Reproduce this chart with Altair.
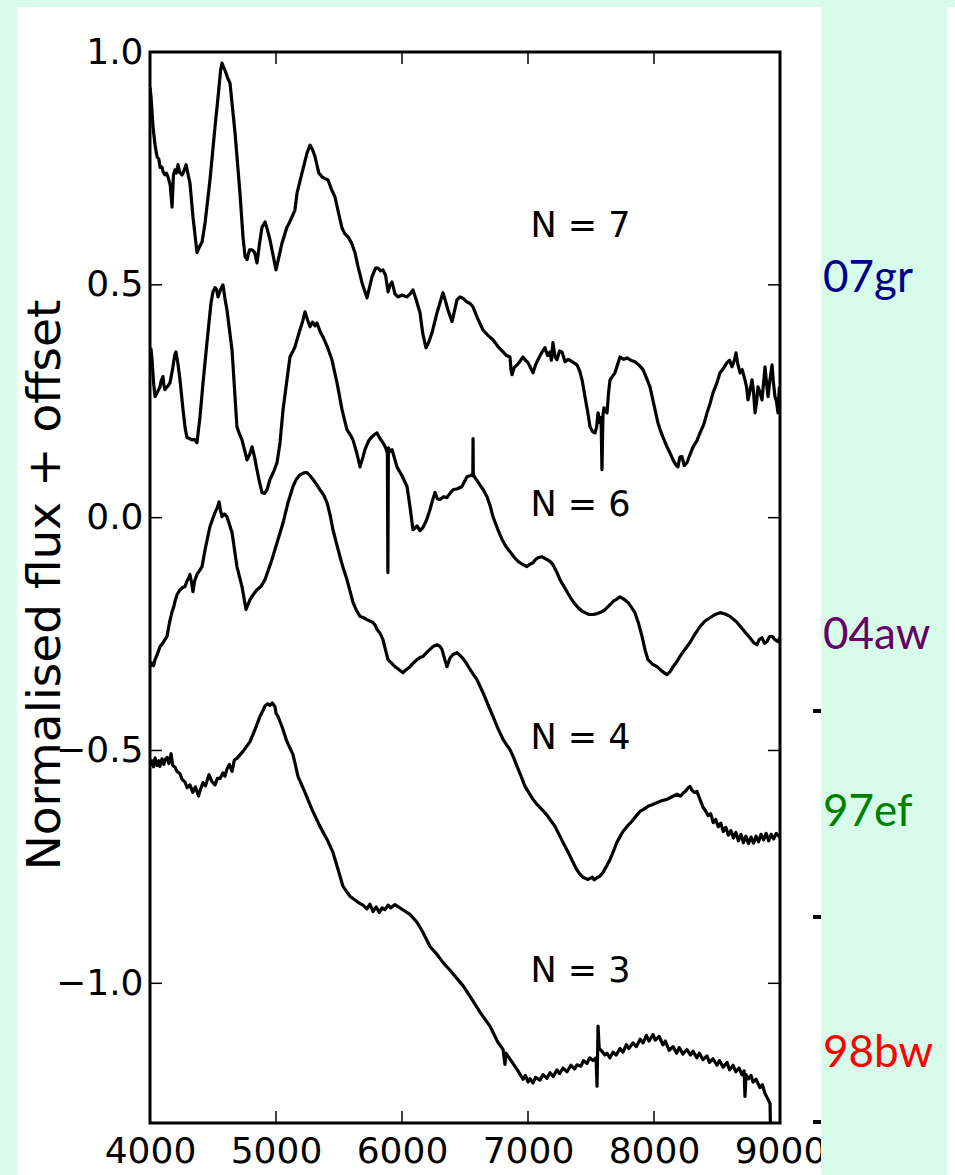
import altair as alt
import pandas as pd

# Supernova spectra: (wavelength in Angstrom, normalised flux + offset)
spec_07gr = [
    (4000, 0.925), (4008, 0.904), (4024, 0.839), (4040, 0.800), (4056, 0.775), (4070, 0.770),
    (4080, 0.752), (4095, 0.753), (4105, 0.742), (4119, 0.736), (4130, 0.740), (4143, 0.732),
    (4160, 0.715), (4175, 0.667), (4186, 0.735), (4198, 0.747), (4210, 0.740), (4222, 0.758),
    (4235, 0.742), (4254, 0.736), (4270, 0.745), (4286, 0.758), (4300, 0.740), (4317, 0.719),
    (4341, 0.646), (4373, 0.569), (4390, 0.580), (4413, 0.592), (4437, 0.633), (4476, 0.725),
    (4516, 0.839), (4540, 0.903), (4560, 0.960), (4571, 0.976), (4583, 0.968), (4595, 0.961),
    (4615, 0.945), (4635, 0.933), (4675, 0.826), (4714, 0.697), (4738, 0.603), (4755, 0.560),
    (4770, 0.554), (4790, 0.575), (4810, 0.575), (4830, 0.570), (4849, 0.547), (4870, 0.590),
    (4889, 0.624), (4913, 0.635), (4930, 0.620), (4952, 0.597), (5000, 0.532), (5048, 0.590),
    (5087, 0.624), (5100, 0.630), (5127, 0.646), (5150, 0.660), (5167, 0.697), (5206, 0.740),
    (5246, 0.783), (5270, 0.800), (5290, 0.790), (5310, 0.775), (5340, 0.740), (5365, 0.732),
    (5390, 0.728), (5413, 0.725), (5440, 0.705), (5468, 0.689), (5500, 0.650), (5524, 0.622),
    (5545, 0.610), (5571, 0.603), (5600, 0.590), (5627, 0.569), (5650, 0.540), (5683, 0.504),
    (5722, 0.472), (5762, 0.517), (5790, 0.536), (5810, 0.536), (5830, 0.530), (5849, 0.532),
    (5870, 0.520), (5889, 0.485), (5905, 0.500), (5921, 0.506), (5945, 0.480), (5968, 0.474),
    (6000, 0.478), (6040, 0.474), (6070, 0.482), (6087, 0.489), (6110, 0.470), (6143, 0.440),
    (6165, 0.395), (6190, 0.365), (6210, 0.375), (6238, 0.397), (6278, 0.440), (6300, 0.460),
    (6325, 0.483), (6345, 0.465), (6365, 0.446), (6397, 0.421), (6437, 0.468), (6460, 0.474),
    (6490, 0.470), (6516, 0.463), (6540, 0.460), (6563, 0.453), (6595, 0.431), (6643, 0.403),
    (6680, 0.392), (6722, 0.382), (6760, 0.368), (6802, 0.356), (6830, 0.348), (6857, 0.345),
    (6865, 0.318), (6873, 0.307), (6890, 0.322), (6913, 0.328), (6935, 0.335), (6960, 0.345),
    (6980, 0.338), (7000, 0.333), (7020, 0.322), (7040, 0.311), (7060, 0.328), (7079, 0.339),
    (7110, 0.355), (7135, 0.365), (7155, 0.348), (7175, 0.356), (7185, 0.338), (7198, 0.376),
    (7215, 0.345), (7230, 0.339), (7250, 0.358), (7270, 0.356), (7294, 0.335), (7320, 0.340),
    (7349, 0.335), (7389, 0.328), (7410, 0.315), (7429, 0.296), (7452, 0.260), (7475, 0.225),
    (7492, 0.195), (7512, 0.185), (7532, 0.182), (7545, 0.195), (7556, 0.225), (7571, 0.204),
    (7580, 0.215), (7587, 0.103), (7595, 0.220), (7603, 0.236), (7627, 0.225), (7640, 0.270),
    (7651, 0.296), (7690, 0.311), (7730, 0.345), (7760, 0.340), (7786, 0.343), (7815, 0.338),
    (7849, 0.335), (7880, 0.328), (7913, 0.318), (7940, 0.300), (7968, 0.281), (8008, 0.232),
    (8030, 0.205), (8048, 0.189), (8075, 0.170), (8103, 0.152), (8125, 0.140), (8151, 0.124),
    (8170, 0.115), (8190, 0.109), (8205, 0.130), (8222, 0.131), (8240, 0.112), (8262, 0.118),
    (8285, 0.135), (8310, 0.152), (8340, 0.165), (8365, 0.182), (8395, 0.200), (8421, 0.225),
    (8445, 0.245), (8468, 0.268), (8500, 0.290), (8524, 0.311), (8550, 0.320), (8579, 0.333),
    (8600, 0.338), (8619, 0.324), (8640, 0.340), (8651, 0.354), (8665, 0.330), (8683, 0.311),
    (8700, 0.318), (8722, 0.296), (8735, 0.280), (8746, 0.253), (8760, 0.270), (8778, 0.296),
    (8790, 0.270), (8802, 0.225), (8815, 0.250), (8825, 0.281), (8840, 0.270), (8857, 0.253),
    (8870, 0.290), (8881, 0.324), (8893, 0.290), (8905, 0.260), (8920, 0.295), (8937, 0.328),
    (8948, 0.290), (8960, 0.260), (8972, 0.250), (8984, 0.225), (8995, 0.281),
]

spec_04aw = [
    (4000, 0.350), (4008, 0.362), (4016, 0.340), (4028, 0.290), (4040, 0.260), (4060, 0.270),
    (4079, 0.281), (4090, 0.295), (4103, 0.303), (4110, 0.285), (4119, 0.275), (4140, 0.282),
    (4159, 0.290), (4180, 0.320), (4195, 0.348), (4206, 0.356), (4222, 0.330), (4238, 0.296),
    (4262, 0.232), (4280, 0.190), (4294, 0.172), (4313, 0.170), (4333, 0.167), (4353, 0.168),
    (4373, 0.161), (4397, 0.217), (4421, 0.290), (4452, 0.376), (4484, 0.461), (4500, 0.485),
    (4516, 0.494), (4528, 0.490), (4540, 0.474), (4560, 0.490), (4579, 0.500), (4595, 0.470),
    (4611, 0.446), (4651, 0.360), (4690, 0.195), (4710, 0.180), (4730, 0.167), (4770, 0.124),
    (4790, 0.135), (4810, 0.152), (4830, 0.130), (4849, 0.103), (4870, 0.075), (4889, 0.054),
    (4910, 0.052), (4929, 0.060), (4952, 0.082), (4980, 0.098), (5008, 0.118), (5032, 0.161),
    (5056, 0.232), (5087, 0.296), (5111, 0.345), (5130, 0.355), (5151, 0.367), (5170, 0.385),
    (5190, 0.403), (5210, 0.420), (5230, 0.442), (5250, 0.425), (5270, 0.410), (5290, 0.420),
    (5310, 0.412), (5325, 0.418), (5350, 0.400), (5373, 0.388), (5410, 0.365), (5444, 0.339),
    (5484, 0.290), (5524, 0.232), (5563, 0.189), (5590, 0.178), (5611, 0.167), (5640, 0.140),
    (5667, 0.109), (5690, 0.130), (5706, 0.146), (5735, 0.165), (5762, 0.174), (5780, 0.178),
    (5802, 0.182), (5825, 0.170), (5849, 0.161), (5870, 0.150), (5884, 0.138), (5888, -0.118),
    (5892, 0.150), (5905, 0.142), (5921, 0.146), (5940, 0.128), (5960, 0.109), (6000, 0.090),
    (6040, 0.067), (6065, 0.020), (6087, -0.026), (6120, -0.018), (6143, -0.028), (6167, -0.021),
    (6195, -0.005), (6222, 0.017), (6240, 0.035), (6262, 0.054), (6282, 0.040), (6302, 0.039),
    (6330, 0.045), (6357, 0.043), (6380, 0.052), (6405, 0.060), (6440, 0.062), (6476, 0.067),
    (6500, 0.080), (6516, 0.088), (6540, 0.090), (6556, 0.092), (6562, 0.090), (6564, 0.170),
    (6566, 0.092), (6579, 0.086), (6600, 0.078), (6619, 0.070), (6645, 0.060), (6675, 0.045),
    (6700, 0.025), (6722, 0.002), (6760, -0.025), (6794, -0.047), (6825, -0.062), (6857, -0.073),
    (6890, -0.085), (6921, -0.094), (6955, -0.100), (6992, -0.105), (7015, -0.100), (7040, -0.097),
    (7060, -0.090), (7079, -0.086), (7110, -0.084), (7151, -0.090), (7175, -0.094), (7198, -0.101),
    (7225, -0.115), (7254, -0.133), (7290, -0.150), (7333, -0.170), (7365, -0.183), (7397, -0.193),
    (7425, -0.200), (7452, -0.204), (7485, -0.208), (7516, -0.208), (7550, -0.206), (7587, -0.202),
    (7610, -0.198), (7635, -0.191), (7655, -0.186), (7675, -0.180), (7700, -0.176), (7730, -0.170),
    (7760, -0.175), (7794, -0.182), (7820, -0.192), (7849, -0.204), (7875, -0.225), (7905, -0.255),
    (7930, -0.285), (7952, -0.305), (7990, -0.315), (8024, -0.320), (8065, -0.330), (8103, -0.337),
    (8130, -0.330), (8151, -0.320), (8180, -0.310), (8206, -0.298), (8245, -0.283), (8286, -0.268),
    (8325, -0.250), (8365, -0.234), (8405, -0.222), (8444, -0.215), (8485, -0.208), (8524, -0.204),
    (8565, -0.207), (8603, -0.212), (8630, -0.218), (8659, -0.225), (8680, -0.232), (8706, -0.240),
    (8735, -0.250), (8762, -0.258), (8790, -0.268), (8817, -0.273), (8835, -0.262), (8857, -0.258),
    (8877, -0.270), (8897, -0.266), (8915, -0.256), (8937, -0.255), (8960, -0.262), (8984, -0.266),
    (8998, -0.258),
]

spec_97ef = [
    (4000, -0.320), (4015, -0.312), (4028, -0.318), (4040, -0.305), (4060, -0.292), (4079, -0.277),
    (4100, -0.270), (4118, -0.262), (4135, -0.255), (4155, -0.225), (4175, -0.202), (4190, -0.190),
    (4198, -0.180), (4215, -0.165), (4238, -0.155), (4260, -0.150), (4278, -0.148), (4295, -0.135),
    (4310, -0.128), (4317, -0.122), (4330, -0.140), (4341, -0.159), (4355, -0.135), (4373, -0.122),
    (4390, -0.115), (4413, -0.105), (4437, -0.069), (4476, -0.019), (4516, 0.011), (4535, 0.022),
    (4548, 0.034), (4560, 0.015), (4571, 0.002), (4590, 0.008), (4611, 0.002), (4651, -0.032),
    (4690, -0.105), (4730, -0.148), (4762, -0.197), (4794, -0.176), (4820, -0.165), (4849, -0.155),
    (4880, -0.148), (4913, -0.133), (4940, -0.112), (4968, -0.090), (5016, -0.047), (5056, -0.011),
    (5095, 0.032), (5135, 0.067), (5160, 0.082), (5190, 0.092), (5220, 0.096), (5246, 0.097),
    (5270, 0.090), (5294, 0.082), (5320, 0.072), (5349, 0.060), (5380, 0.048), (5405, 0.032),
    (5430, 0.005), (5452, -0.026), (5480, -0.055), (5508, -0.084), (5535, -0.110), (5563, -0.133),
    (5590, -0.160), (5611, -0.182), (5640, -0.200), (5667, -0.212), (5695, -0.215), (5722, -0.219),
    (5745, -0.222), (5770, -0.225), (5790, -0.232), (5802, -0.240), (5825, -0.248), (5849, -0.262),
    (5870, -0.285), (5889, -0.305), (5915, -0.312), (5944, -0.320), (5975, -0.326), (6008, -0.333),
    (6035, -0.326), (6063, -0.320), (6090, -0.312), (6119, -0.305), (6145, -0.300), (6167, -0.298),
    (6195, -0.290), (6222, -0.283), (6250, -0.276), (6278, -0.273), (6300, -0.276), (6317, -0.283),
    (6340, -0.305), (6357, -0.320), (6380, -0.302), (6405, -0.294), (6437, -0.290), (6476, -0.300),
    (6510, -0.312), (6540, -0.326), (6570, -0.338), (6595, -0.348), (6643, -0.376), (6680, -0.400),
    (6722, -0.427), (6760, -0.452), (6802, -0.476), (6830, -0.488), (6857, -0.498), (6885, -0.515),
    (6913, -0.534), (6945, -0.555), (6976, -0.577), (7010, -0.592), (7040, -0.605), (7075, -0.617),
    (7111, -0.627), (7135, -0.634), (7159, -0.642), (7185, -0.652), (7214, -0.663), (7255, -0.685),
    (7294, -0.706), (7325, -0.722), (7357, -0.740), (7385, -0.755), (7413, -0.766), (7440, -0.773),
    (7476, -0.777), (7510, -0.772), (7525, -0.778), (7548, -0.773), (7570, -0.770), (7595, -0.762),
    (7620, -0.750), (7651, -0.734), (7680, -0.715), (7706, -0.697), (7730, -0.685), (7754, -0.674),
    (7790, -0.662), (7825, -0.652), (7860, -0.640), (7889, -0.631), (7920, -0.626), (7952, -0.620),
    (7990, -0.616), (8024, -0.612), (8060, -0.608), (8103, -0.605), (8140, -0.600), (8183, -0.594),
    (8210, -0.598), (8230, -0.592), (8255, -0.586), (8270, -0.580), (8286, -0.577), (8300, -0.585),
    (8320, -0.590), (8341, -0.588), (8365, -0.605), (8389, -0.622), (8410, -0.630), (8430, -0.640),
    (8450, -0.636), (8470, -0.655), (8490, -0.648), (8510, -0.664), (8530, -0.656), (8550, -0.674),
    (8570, -0.665), (8590, -0.682), (8610, -0.672), (8630, -0.688), (8650, -0.676), (8670, -0.694),
    (8690, -0.680), (8710, -0.698), (8730, -0.684), (8750, -0.700), (8770, -0.686), (8790, -0.699),
    (8810, -0.684), (8830, -0.696), (8850, -0.680), (8870, -0.692), (8890, -0.678), (8910, -0.694),
    (8930, -0.680), (8950, -0.690), (8970, -0.678), (8998, -0.686),
]

spec_98bw = [
    (4000, -0.519), (4008, -0.530), (4016, -0.522), (4028, -0.535), (4040, -0.516), (4056, -0.532),
    (4070, -0.522), (4079, -0.534), (4095, -0.518), (4110, -0.530), (4119, -0.520), (4135, -0.515),
    (4150, -0.528), (4167, -0.507), (4180, -0.532), (4198, -0.536), (4215, -0.545), (4238, -0.550),
    (4255, -0.562), (4278, -0.568), (4295, -0.580), (4317, -0.574), (4340, -0.590), (4360, -0.578),
    (4373, -0.588), (4385, -0.598), (4397, -0.586), (4421, -0.569), (4440, -0.576), (4468, -0.552),
    (4490, -0.566), (4516, -0.574), (4535, -0.560), (4556, -0.560), (4580, -0.548), (4595, -0.555),
    (4611, -0.540), (4630, -0.530), (4651, -0.545), (4670, -0.520), (4690, -0.517), (4738, -0.502),
    (4794, -0.481), (4833, -0.455), (4873, -0.427), (4900, -0.412), (4913, -0.404), (4935, -0.400),
    (4952, -0.403), (4970, -0.398), (4992, -0.406), (5000, -0.420), (5016, -0.427), (5048, -0.449),
    (5087, -0.481), (5135, -0.509), (5175, -0.556), (5230, -0.590), (5286, -0.627), (5349, -0.663),
    (5405, -0.691), (5452, -0.719), (5492, -0.755), (5532, -0.792), (5587, -0.813), (5651, -0.826),
    (5690, -0.832), (5722, -0.840), (5745, -0.830), (5770, -0.846), (5795, -0.836), (5820, -0.848),
    (5841, -0.838), (5865, -0.842), (5889, -0.832), (5910, -0.838), (5944, -0.831), (6000, -0.841),
    (6063, -0.852), (6119, -0.869), (6167, -0.891), (6222, -0.921), (6278, -0.938), (6325, -0.955),
    (6381, -0.972), (6437, -0.990), (6484, -1.005), (6540, -1.028), (6619, -1.062), (6698, -1.092),
    (6762, -1.127), (6802, -1.142), (6817, -1.174), (6825, -1.150), (6857, -1.163), (6913, -1.185),
    (6960, -1.206), (6980, -1.198), (7000, -1.212), (7016, -1.205), (7040, -1.214), (7060, -1.202),
    (7095, -1.208), (7120, -1.196), (7150, -1.204), (7175, -1.192), (7200, -1.200), (7230, -1.186),
    (7250, -1.194), (7278, -1.182), (7310, -1.190), (7340, -1.176), (7370, -1.184), (7389, -1.175),
    (7420, -1.178), (7440, -1.166), (7468, -1.172), (7490, -1.160), (7516, -1.166), (7540, -1.160),
    (7548, -1.221), (7556, -1.092), (7565, -1.140), (7587, -1.146), (7610, -1.154), (7627, -1.150),
    (7650, -1.160), (7675, -1.148), (7700, -1.154), (7730, -1.140), (7754, -1.148), (7780, -1.132),
    (7800, -1.140), (7833, -1.128), (7860, -1.136), (7890, -1.120), (7913, -1.128), (7940, -1.112),
    (7960, -1.124), (7992, -1.110), (8010, -1.122), (8040, -1.114), (8071, -1.132), (8090, -1.124),
    (8120, -1.144), (8151, -1.136), (8180, -1.150), (8200, -1.138), (8230, -1.152), (8260, -1.142),
    (8290, -1.154), (8310, -1.146), (8340, -1.160), (8360, -1.150), (8389, -1.164), (8420, -1.156),
    (8440, -1.170), (8468, -1.162), (8500, -1.176), (8520, -1.166), (8548, -1.180), (8580, -1.170),
    (8600, -1.186), (8627, -1.176), (8650, -1.190), (8675, -1.182), (8698, -1.196), (8715, -1.188),
    (8722, -1.243), (8730, -1.196), (8750, -1.205), (8770, -1.198), (8786, -1.212), (8810, -1.206),
    (8841, -1.224), (8860, -1.218), (8880, -1.236), (8897, -1.245), (8910, -1.252), (8921, -1.258),
    (8925, -1.320),
]

spectra = {"07gr": spec_07gr, "04aw": spec_04aw, "97ef": spec_97ef, "98bw": spec_98bw}

# Side labels naming each supernova and its colour
sn_names = ["07gr", "04aw", "97ef", "98bw"]
sn_colors = ["#00008b", "#660066", "#008000", "#ff0000"]

# Annotations: number of components used for each spectrum
n_text = ["N = 7", "N = 6", "N = 4", "N = 3"]
n_wave = [7020, 7020, 7020, 7020]
n_flux = [0.627, 0.028, -0.474, -0.974]

x_tick_values = [4000, 5000, 6000, 7000, 8000, 9000]
y_tick_values = [-1.0, -0.5, 0.0, 0.5, 1.0]
x_inner_ticks = [5000, 6000, 7000, 8000]
y_inner_ticks = [-1.0, -0.5, 0.0, 0.5]

W, H = 630, 1071
MINT = "#d7fcea"
FONT = "DejaVu Sans"

rows = []
for name, pts in spectra.items():
    for i, (w, f) in enumerate(pts):
        rows.append({"sn": name, "i": i, "wave": w, "flux": f})
df = pd.DataFrame(rows)

xscale = alt.Scale(domain=[4000, 9000], nice=False, zero=False)
yscale = alt.Scale(domain=[-1.3, 1.0], nice=False, zero=False)

one = pd.DataFrame({"k": [0]})


def block(x, x2, y, y2, color):
    return alt.Chart(one).mark_rect(color=color, opacity=1).encode(
        x=alt.value(x), x2=alt.value(x2), y=alt.value(y), y2=alt.value(y2)
    )


# Slide background strips around the white figure panel
bg = (
    block(-150, -133, -52, H + 52, MINT)
    + block(-150, 805, -52, -45, MINT)
    + block(671, 797, -52, H + 52, MINT)
)

lines = alt.Chart(df).mark_line(
    color="black", strokeWidth=3.2, strokeJoin="round", clip=True
).encode(
    x=alt.X(
        "wave:Q",
        scale=xscale,
        axis=alt.Axis(
            values=x_tick_values, format="d", title=None, grid=False, domain=False,
            ticks=False, tickSize=0, labelFontSize=36, labelFont=FONT, labelColor="black",
            labelPadding=11, labelFlush=False, labelOverlap=False,
        ),
    ),
    y=alt.Y(
        "flux:Q",
        scale=yscale,
        axis=alt.Axis(
            values=y_tick_values, format=".1f", title=None, grid=False, domain=False,
            ticks=False, tickSize=0, labelFontSize=36, labelFont=FONT, labelColor="black",
            labelPadding=7, labelFlush=False, labelOverlap=False,
        ),
    ),
    detail="sn:N",
    order=alt.Order("i:Q"),
)

# Inward-pointing ticks on all four sides of the frame
xt = pd.DataFrame({"t": x_inner_ticks})
yt = pd.DataFrame({"t": y_inner_ticks})
tick_style = dict(color="black", strokeWidth=1.5)
ticks = (
    alt.Chart(xt).mark_rule(**tick_style).encode(x=alt.X("t:Q", scale=xscale), y=alt.value(H), y2=alt.value(H - 12))
    + alt.Chart(xt).mark_rule(**tick_style).encode(x=alt.X("t:Q", scale=xscale), y=alt.value(0), y2=alt.value(12))
    + alt.Chart(yt).mark_rule(**tick_style).encode(y=alt.Y("t:Q", scale=yscale), x=alt.value(0), x2=alt.value(12))
    + alt.Chart(yt).mark_rule(**tick_style).encode(y=alt.Y("t:Q", scale=yscale), x=alt.value(W - 12), x2=alt.value(W))
)

ndf = pd.DataFrame({"label": n_text, "wave": n_wave, "flux": n_flux})
n_labels = alt.Chart(ndf).mark_text(
    align="left", baseline="middle", fontSize=35, font=FONT, color="black"
).encode(x=alt.X("wave:Q", scale=xscale), y=alt.Y("flux:Q", scale=yscale), text="label:N")

ytitle = alt.Chart(one).mark_text(
    angle=270, align="center", baseline="alphabetic", fontSize=47, font=FONT, color="black"
).encode(x=alt.value(-90), y=alt.value(533), text=alt.value("Normalised flux + offset"))

# Coloured supernova names on the right-hand strip
name_baselines = [240, 597, 774, 1015]
side = None
for nm, col, yb in zip(sn_names, sn_colors, name_baselines):
    t = alt.Chart(one).mark_text(
        align="left", baseline="alphabetic", fontSize=44, font="Lato", color=col
    ).encode(x=alt.value(673), y=alt.value(yb), text=alt.value(nm))
    side = t if side is None else side + t

# Small tick stubs at the edge of the right strip
stubs = None
for yb in [659, 865, 1070]:
    s = alt.Chart(one).mark_rule(color="black", strokeWidth=4).encode(
        x=alt.value(663), x2=alt.value(671), y=alt.value(yb)
    )
    stubs = s if stubs is None else stubs + s

chart = (
    alt.layer(bg, lines, ticks, n_labels, ytitle, side, stubs)
    .properties(
        width=W,
        height=H,
        background="white",
        autosize=alt.AutoSizeParams(type="none"),
        padding={"left": 150, "top": 52, "right": 175, "bottom": 52},
    )
    .configure_view(stroke="black", strokeWidth=3)
)

chart.save("out.html", embed_options={"renderer": "svg", "actions": False})
